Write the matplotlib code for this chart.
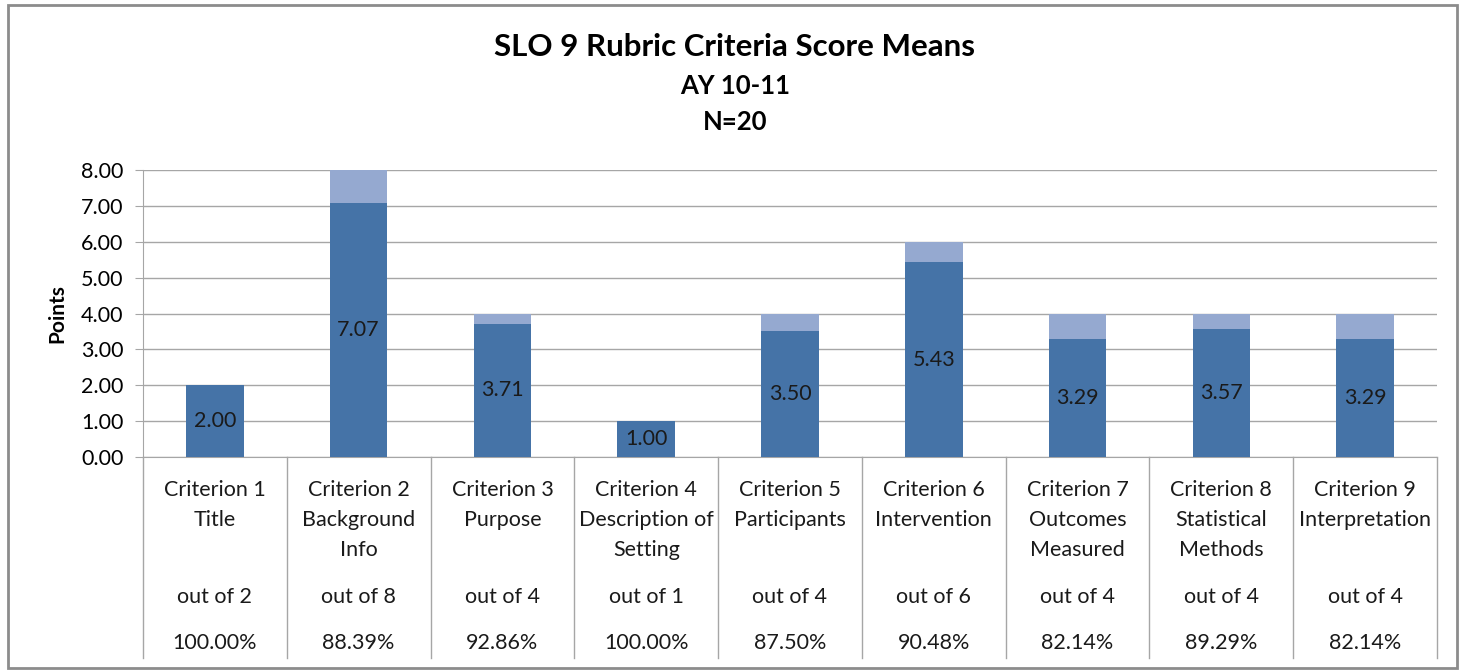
import numpy as np
import matplotlib.pyplot as plt
from matplotlib.patches import Rectangle
from matplotlib.transforms import blended_transform_factory

plt.rcParams['font.family'] = ['Lato', 'DejaVu Sans']

# data
names = ['Criterion 1\nTitle', 'Criterion 2\nBackground\nInfo', 'Criterion 3\nPurpose',
         'Criterion 4\nDescription of\nSetting', 'Criterion 5\nParticipants',
         'Criterion 6\nIntervention', 'Criterion 7\nOutcomes\nMeasured',
         'Criterion 8\nStatistical\nMethods', 'Criterion 9\nInterpretation']
means = [2.00, 7.07, 3.71, 1.00, 3.50, 5.43, 3.29, 3.57, 3.29]
max_pts = [2, 8, 4, 1, 4, 6, 4, 4, 4]
pcts = ['100.00%', '88.39%', '92.86%', '100.00%', '87.50%', '90.48%', '82.14%', '89.29%', '82.14%']

dark = '#4573A7'
light = '#95A9D0'
grid_c = '#A6A6A6'
fs = 15.5

fig = plt.figure(figsize=(14.61, 6.71), dpi=100)
ax = fig.add_axes([143/1461, 1-457/671, (1437-143)/1461, (457-170)/671])

x = np.arange(len(means))
rest = np.array(max_pts) - np.array(means)
ax.bar(x, means, width=0.4, color=dark, zorder=3)
ax.bar(x, rest, bottom=means, width=0.4, color=light, zorder=3)

for i, m in enumerate(means):
    ax.text(i, m/2, f'{m:.2f}', ha='center', va='center', fontsize=fs, color='#1a1a1a', zorder=4)

ax.set_xlim(-0.5, len(means)-0.5)
ax.set_ylim(0, 8)
ax.set_yticks(np.arange(0, 9, 1))
ax.set_yticklabels([f'{v:.2f}' for v in range(9)], fontsize=fs)
ax.tick_params(axis='y', length=6, color=grid_c, pad=8)
ax.set_xticks([])
ax.grid(axis='y', color=grid_c, linewidth=1, zorder=0)
for s in ['top', 'right']:
    ax.spines[s].set_visible(False)
ax.spines['left'].set_color(grid_c)
ax.spines['bottom'].set_color(grid_c)
ax.set_ylabel('Points', fontsize=15, fontweight='bold', labelpad=10)

# table below axis
tr = blended_transform_factory(ax.transData, fig.transFigure)
for b in np.arange(-0.5, len(means)):
    ax.plot([b, b], [1-457/671, 1-658/671], transform=tr, color=grid_c, lw=1, clip_on=False)
for i in range(len(means)):
    ax.text(i, 1-480/671, names[i], transform=tr, ha='center', va='top', fontsize=fs,
            linespacing=1.62, color='#1a1a1a')
    ax.text(i, 1-597/671, f'out of {max_pts[i]}', transform=tr, ha='center', va='center',
            fontsize=fs, color='#1a1a1a')
    ax.text(i, 1-643/671, pcts[i], transform=tr, ha='center', va='center',
            fontsize=fs, color='#1a1a1a')

fig.text(735/1461, 1-47/671, 'SLO 9 Rubric Criteria Score Means', ha='center', va='center',
         fontsize=22.5, fontweight='bold')
fig.text(735/1461, 1-86/671, 'AY 10-11', ha='center', va='center', fontsize=18.5, fontweight='bold')
fig.text(735/1461, 1-122/671, 'N=20', ha='center', va='center', fontsize=18.5, fontweight='bold')

fig.patches.append(Rectangle((8/1461, 1-668/671), (1457-8)/1461, (668-5)/671,
                             transform=fig.transFigure, fill=False, edgecolor='#8c8c8c', lw=2))

fig.savefig('out.png', dpi=100)
